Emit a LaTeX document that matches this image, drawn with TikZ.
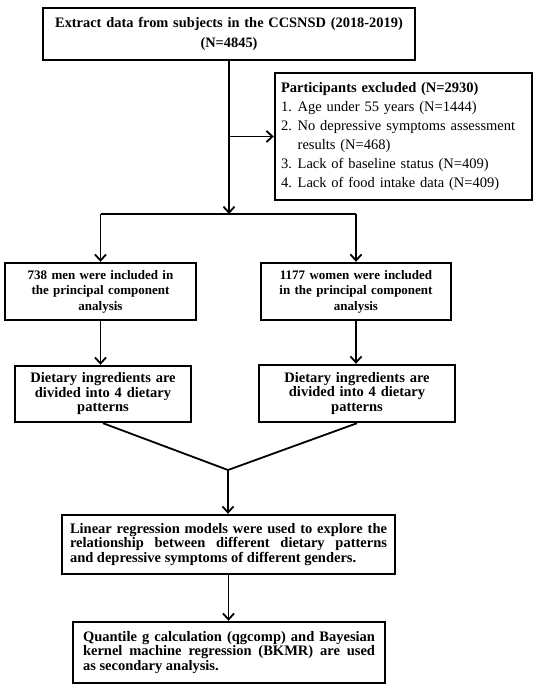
\documentclass[tikz,border=0pt]{standalone}
\usepackage{fontspec}
\setmainfont{Liberation Serif}
\usetikzlibrary{arrows.meta}

\newcommand{\exnum}[1]{\makebox[1.15em][l]{#1}}

\begin{document}
\begin{tikzpicture}[x=1pt,y=-1pt,
    box/.style={draw,line width=2.4pt,inner xsep=6pt,inner ysep=3pt,align=center,
      font=\bfseries\fontsize{14.5}{14.5}\selectfont},
    arr/.style={line width=1.8pt,-{Straight Barb[length=6pt,width=11pt]}},
    link/.style={line width=1.8pt}]
    \useasboundingbox (0,0) rectangle (536,693);

    % Intake and exclusion
    \node[box,text width=360pt,minimum height=52pt,font=\bfseries\fontsize{14.4}{20}\selectfont] (extract) at (229,34)
      {Extract data from subjects in the CCSNSD (2018-2019)\\(N=4845)};
    \node[box,text width=245pt,minimum height=127pt,align=left,font=\fontsize{14.5}{19}\selectfont] (excluded) at (403.5,136.5)
      {\textbf{Participants excluded (N=2930)}\\
       \exnum{1.}Age under 55 years (N=1444)\\
       \exnum{2.}No depressive symptoms assessment\\
       \exnum{}results (N=468)\\
       \exnum{3.}Lack of baseline status (N=409)\\
       \exnum{4.}Lack of food intake data (N=409)};

    % Men and women
    \node[box,text width=179pt,minimum height=57pt,font=\bfseries\fontsize{13}{15.5}\selectfont] (men) at (100.5,291.5)
      {738 men were included in\\the principal component\\analysis};
    \node[box,text width=178pt,minimum height=57pt,font=\bfseries\fontsize{13}{15.5}\selectfont] (women) at (356,291.5)
      {1177 women were included\\in the principal component\\analysis};
    \node[box,text width=164pt,minimum height=56pt] (dietm) at (103,394)
      {Dietary ingredients are\\divided into 4 dietary\\patterns};
    \node[box,text width=184pt,minimum height=57pt] (dietw) at (357,393.5)
      {Dietary ingredients are\\divided into 4 dietary\\patterns};

    % Analysis
    \node[box,text width=317pt,inner xsep=8pt,minimum height=59pt,align=justify] (linreg) at (228.5,544.5)
      {Linear regression models were used to explore the\linebreak
       relationship between different dietary patterns\linebreak
       and depressive symptoms of different genders.};
    \node[box,text width=292pt,inner xsep=10pt,minimum height=61pt,align=justify] (quant) at (229,652.5)
      {Quantile g calculation (qgcomp) and Bayesian\linebreak
       kernel machine regression (BKMR) are used\linebreak
       as secondary analysis.};

    % Connectors
    \coordinate (split) at (229,214);
    \coordinate (merge) at (228,470);
    \draw[arr] (extract.south) -- (split);
    \draw[arr] (extract.south |- excluded.west) -- (excluded.west);
    \draw[link] (men.north |- split) -- (women.north |- split);
    \draw[arr] (men.north |- split) -- (men.north);
    \draw[arr] (women.north |- split) -- (women.north);
    \draw[arr] (men.south) -- (men.south |- dietm.north);
    \draw[arr] (women.south) -- (women.south |- dietw.north);
    \draw[link] (dietm.south) -- (merge) -- (dietw.south);
    \draw[arr] (merge) -- (merge |- linreg.north);
    \draw[arr] (linreg.south) -- (linreg.south |- quant.north);
\end{tikzpicture}
\end{document}
